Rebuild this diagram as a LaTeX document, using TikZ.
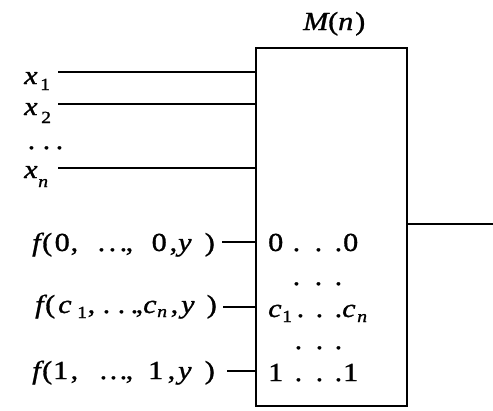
\documentclass[tikz,border=0pt]{standalone}
\usepackage{fontspec}
\setmainfont{Liberation Serif}
\def\ox{0}
% place a piece of text at absolute x (image units) inside a label node
\newcommand\pc[2]{\rlap{\hspace*{\dimexpr #1pt-\ox pt\relax}#2}}
% lowered small subscript at absolute x
\newcommand\lsub[3]{\pc{#1}{\raisebox{-#2pt}{\fontsize{17}{17}\selectfont #3}}}
\begin{document}
\begin{tikzpicture}[x=1pt,y=-1pt,line width=1.4pt,
  lab/.style={anchor=base west,inner sep=0pt,
    font=\fontsize{26}{26}\selectfont\addfontfeatures{FakeStretch=1.16,FakeBold=1.2}},
  boxstyle/.style={draw,line width=1.7pt,minimum width=151pt,minimum height=358pt,anchor=north west,inner sep=0pt}]
\useasboundingbox (0,0) rectangle (493,410);
% block
\node[boxstyle] (M) at (255,47) {};
\node[lab] (title) at (302,30) {\def\ox{302}\pc{302}{\textit{M}}\pc{327}{(}\pc{337}{\textit{n}}\pc{354}{)}};
% x inputs
\node[lab] (x1) at (23,84) {\def\ox{23}\pc{23}{\textit{x}}\lsub{39}{6}{1}};
\node[lab] (x2) at (23,115) {\def\ox{23}\pc{23}{\textit{x}}\lsub{40}{8}{2}};
\node[lab] (xd) at (26,149) {\def\ox{26}\pc{26.5}{.}\pc{41.5}{.}\pc{54.5}{.}};
\node[lab] (xn) at (23,178) {\def\ox{23}\pc{23}{\textit{x}}\lsub{37}{9}{\textit{n}}};
\coordinate (s1) at (58,72);
\coordinate (s2) at (58,104);
\coordinate (sn) at (58,168);
\draw (s1) -- (s1 -| M.west);
\draw (s2) -- (s2 -| M.west);
\draw (sn) -- (sn -| M.west);
% f inputs
\node[lab] (f0) at (27,251) {\def\ox{27}\pc{31}{\textit{f}}\pc{41}{(}\pc{53.5}{0}\pc{69.5}{,}\pc{96.5}{.}\pc{107.5}{.}\pc{118.5}{.}\pc{124.5}{,}\pc{150.5}{0}\pc{168.5}{,}\pc{177}{\textit{y}}\pc{203.5}{)}};
\node[lab] (fc) at (30,313) {\def\ox{30}\pc{34}{\textit{f}}\pc{44}{(}\pc{57}{\textit{c}}\lsub{76}{5}{1}\pc{86.5}{,}\pc{101.5}{.}\pc{116.5}{.}\pc{129.5}{.}\pc{134.5}{,}\pc{142}{\textit{c}}\lsub{156}{4}{\textit{n}}\pc{169.5}{,}\pc{180}{\textit{y}}\pc{205.5}{)}};
\node[lab] (f1) at (27,379) {\def\ox{27}\pc{31}{\textit{f}}\pc{41}{(}\pc{52}{1}\pc{69.5}{,}\pc{98.5}{.}\pc{108.5}{.}\pc{118.5}{.}\pc{124.5}{,}\pc{147}{1}\pc{166.5}{,}\pc{177}{\textit{y}}\pc{203.5}{)}};
\coordinate (a0) at (222,242);
\coordinate (ac) at (223,307);
\coordinate (a1) at (227,371);
\draw (a0) -- (a0 -| M.west);
\draw (ac) -- (ac -| M.west);
\draw (a1) -- (a1 -| M.west);
% interior
\node[lab] (r0) at (267,251) {\def\ox{267}\pc{267}{0}\pc{291.5}{.}\pc{313.5}{.}\pc{333.5}{.}\pc{342}{0}};
\node[lab] (rd1) at (291,285) {\def\ox{291}\pc{291.5}{.}\pc{313.5}{.}\pc{333.5}{.}};
\node[lab] (rc) at (267,317) {\def\ox{267}\pc{267}{\textit{c}}\lsub{281}{5}{1}\pc{295.5}{.}\pc{314.5}{.}\pc{333.5}{.}\pc{341}{\textit{c}}\lsub{356}{5}{\textit{n}}};
\node[lab] (rd2) at (293,349) {\def\ox{293}\pc{293.5}{.}\pc{314.5}{.}\pc{333.5}{.}};
\node[lab] (r1) at (267,381) {\def\ox{267}\pc{267}{1}\pc{293.5}{.}\pc{314.5}{.}\pc{333.5}{.}\pc{342}{1}};
% output
\coordinate (out) at (493,224);
\draw (out -| M.east) -- (out);
\end{tikzpicture}
\end{document}
